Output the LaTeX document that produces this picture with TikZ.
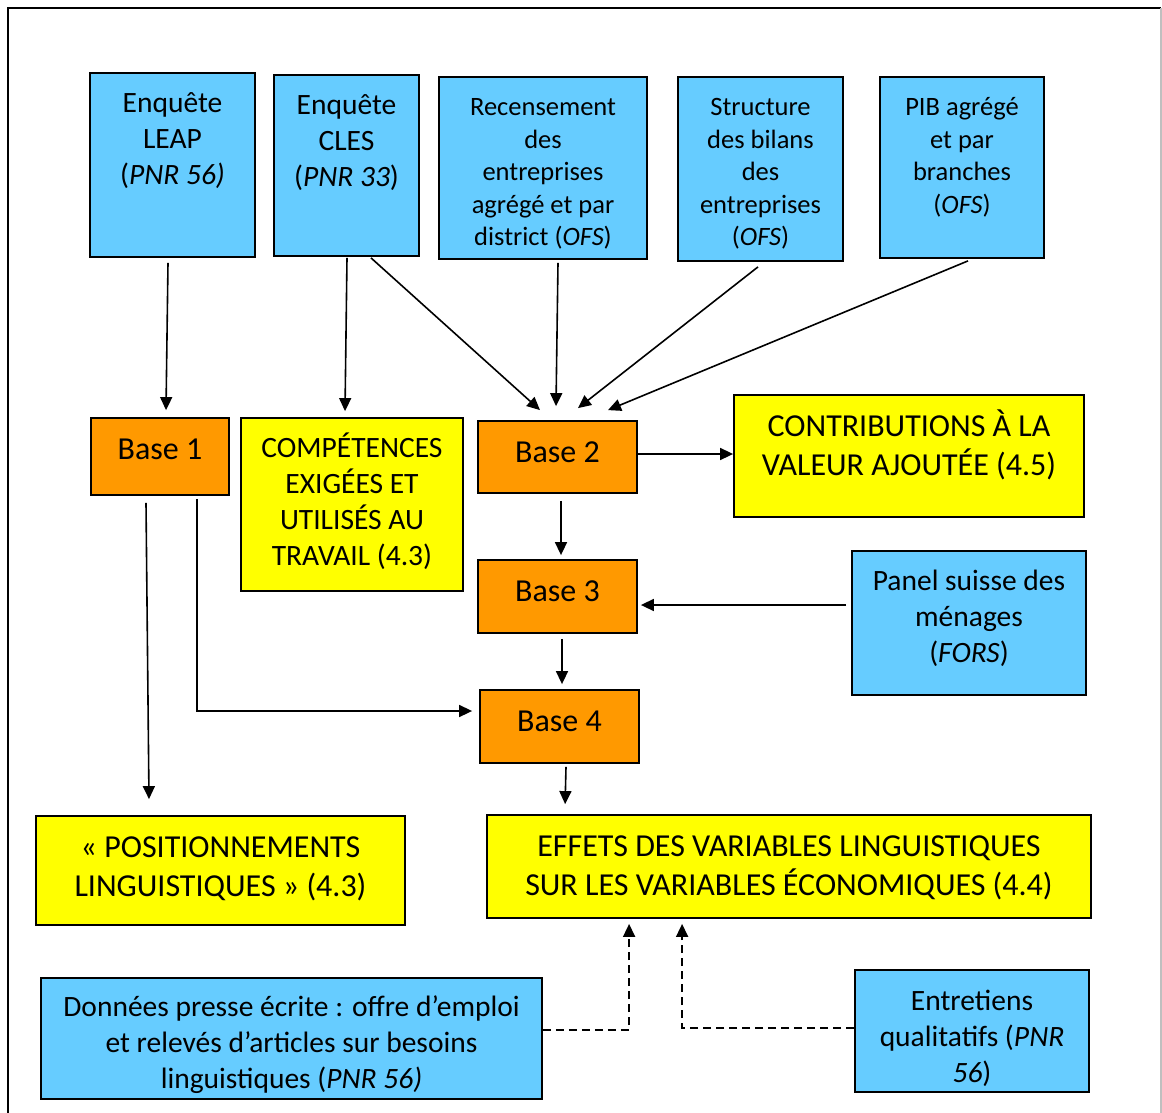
\documentclass[tikz,border=0pt]{standalone}
\usepackage{fontspec}
\setmainfont{Carlito}
\usepackage{tikz}
\usetikzlibrary{arrows.meta,calc}

\definecolor{srcblue}{HTML}{66CCFF}
\definecolor{baseorange}{HTML}{FF9900}
\definecolor{resyellow}{HTML}{FFFF00}

\begin{document}
\begin{tikzpicture}[x=1pt, y=-1pt,
  srcbox/.style={draw, line width=1.8pt, fill=srcblue, inner sep=0pt, font=\fontsize{29.5}{36}\selectfont},
  tightsrc/.style={srcbox, font=\fontsize{26.5}{32.5}\selectfont},
  basebox/.style={srcbox, fill=baseorange, font=\fontsize{32}{39}\selectfont},
  resbox/.style={srcbox, fill=resyellow},
  bigres/.style={resbox, font=\fontsize{32}{39}\selectfont},
  arr/.style={-{Triangle[length=13pt,width=12pt]}, line width=1.6pt},
  dasharr/.style={arr, dash pattern=on 8pt off 5pt}]
  \newcommand{\boxtext}[4][14pt]{\parbox[c][#3pt][t]{#2pt}{\centering\vspace*{#1}\strut #4}}
  \useasboundingbox (0,0) rectangle (1162,1113);
  \draw[line width=1.8pt] (8,1113) -- (8,8) -- (1161,8);
  \draw[gray!50, line width=1.2pt] (1161,8) -- (1161,1113);

  \node[srcbox] (leap) at (172.5,165) {\boxtext{165}{184}{Enquête\\LEAP\\(\textit{PNR 56)}}};
  \node[srcbox] (cles) at (346.5,165.5) {\boxtext{145}{181}{Enquête\\CLES\\(\textit{PNR 33})}};
  \node[tightsrc] (recens) at (543,168) {\boxtext[16pt]{208}{182}{Recensement\\des\\entreprises\\agrégé et par\\district (\textit{OFS})}};
  \node[tightsrc] (bilans) at (760.5,169) {\boxtext[16pt]{165}{184}{Structure\\des bilans\\des\\entreprises\\(\textit{OFS})}};
  \node[tightsrc] (pib) at (962,167.5) {\boxtext[16pt]{164}{181}{PIB agrégé\\et par\\branches\\(\textit{OFS})}};

  \node[basebox] (base1) at (160,456.5) {\boxtext{138}{77}{Base 1}};
  \node[resbox] (comp) at (352,504.5) {\boxtext{222}{173}{COMPÉTENCES\\EXIGÉES ET\\UTILISÉS AU\\TRAVAIL (4.3)}};
  \node[basebox] (base2) at (557.5,457) {\boxtext{159}{72}{Base 2}};
  \node[bigres] (contrib) at (909,456) {\boxtext{350}{122}{CONTRIBUTIONS À LA\\VALEUR AJOUTÉE (4.5)}};
  \node[basebox] (base3) at (557.5,596.5) {\boxtext{159}{73}{Base 3}};
  \node[srcbox] (panel) at (969,623) {\boxtext{234}{144}{Panel suisse des\\ménages\\(\textit{FORS})}};
  \node[basebox] (base4) at (559.5,726.5) {\boxtext{159}{73}{Base 4}};
  \node[bigres] (posit) at (220.5,870.5) {\boxtext{369}{109}{« POSITIONNEMENTS\\LINGUISTIQUES » (4.3)}};
  \node[bigres] (effets) at (789,866.5) {\boxtext{604}{103}{EFFETS DES VARIABLES LINGUISTIQUES\\SUR LES VARIABLES ÉCONOMIQUES (4.4)}};
  \node[srcbox] (presse) at (291.5,1038.5) {\boxtext[13pt]{501}{121}{Données presse écrite : offre d’emploi\\et relevés d’articles sur besoins\\linguistiques (\textit{PNR 56)}}};
  \node[srcbox] (entret) at (972,1031) {\boxtext[15pt]{234}{122}{Entretiens\\qualitatifs (\textit{PNR}\\\textit{56})}};

  \draw[arr] ($(leap.south)+(-4.5,5)$) -- ($(base1.north)+(6,-7)$);
  \draw[arr] ($(cles.south)+(0.5,1)$) -- ($(comp.north)+(-7,-6)$);
  \draw[arr] ($(cles.south)+(24.5,1)$) -- ($(base2.north)+(-17.5,-10)$);
  \draw[arr] ($(recens.south)+(15,3)$) -- ($(base2.north)+(-1.5,-14)$);
  \draw[arr] ($(bilans.south)+(-2.5,5)$) -- ($(base2.north)+(20.5,-12)$);
  \draw[arr] ($(pib.south)+(6,2)$) -- ($(base2.north)+(50.5,-10)$);
  \draw[arr] ($(base2.east)+(0,-3)$) -- ($(contrib.west)+(0,-2)$);
  \draw[arr] ($(base2.south)+(3.5,7)$) -- ($(base3.north)+(3.5,-4)$);
  \draw[arr] ($(panel.west)+(-5,-18)$) -- ($(base3.east)+(3,8.5)$);
  \draw[arr] ($(base3.south)+(4.5,5)$) -- ($(base4.north)+(2.5,-5)$);
  \draw[arr] ($(base1.south)+(37,3)$) |- ($(base4.west)+(-7,-15.5)$);
  \draw[arr] ($(base1.south)+(-14,7)$) -- ($(posit.north)+(-71.5,-16)$);
  \draw[arr] ($(base4.south)+(6.5,3)$) -- ($(effets.north west)+(79,-10)$);
  \draw[dasharr] ($(presse.east)+(0,-8.5)$) -| ($(effets.south west)+(143,5)$);
  \draw[dasharr] ($(entret.west)+(0,-3)$) -| ($(effets.south west)+(196,5)$);

\end{tikzpicture}
\end{document}
